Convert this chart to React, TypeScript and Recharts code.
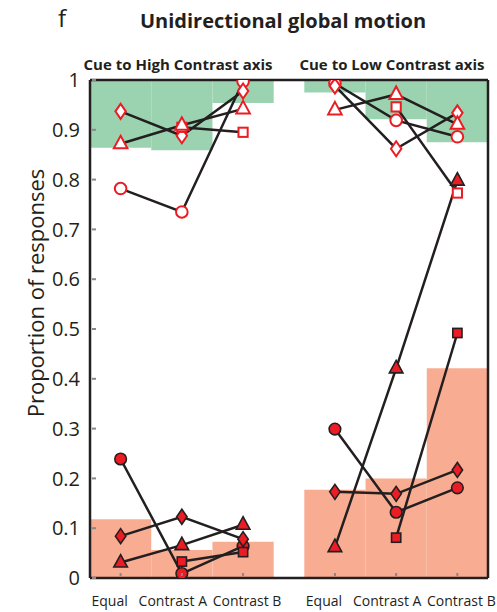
import React from 'react';
import { ComposedChart, XAxis, YAxis, Scatter, ReferenceArea, ReferenceLine } from 'recharts';

const categories = ['Equal', 'Contrast A', 'Contrast B'];
const panelTitles = ['Cue to High Contrast axis', 'Cue to Low Contrast axis'];
const yTicks = [0, 0.1, 0.2, 0.3, 0.4, 0.5, 0.6, 0.7, 0.8, 0.9, 1];

// Bars: green from value up to 1, orange from 0 up to value
const highGreenBottom = [0.864, 0.859, 0.954];
const lowGreenBottom = [0.975, 0.921, 0.875];
const highOrangeTop = [0.118, 0.056, 0.073];
const lowOrangeTop = [0.177, 0.2, 0.421];

// Upper (open) markers – Cue to High Contrast axis
const highCircleUpper = [0.782, 0.735, 0.997];
const highDiamondUpper = [0.937, 0.888, 0.978];
const highTriangleUpper = [0.872, 0.909, 0.942];
const highSquareUpper = [null, 0.905, 0.895];
// Lower (filled) markers – Cue to High Contrast axis
const highCircleLower = [0.239, 0.009, 0.064];
const highDiamondLower = [0.084, 0.123, 0.078];
const highTriangleLower = [0.031, 0.066, 0.107];
const highSquareLower = [null, 0.033, 0.052];

// Upper (open) markers – Cue to Low Contrast axis
const lowCircleUpper = [0.993, 0.919, 0.886];
const lowDiamondUpper = [0.988, 0.862, 0.934];
const lowTriangleUpper = [0.94, 0.971, 0.911];
const lowSquareUpper = [null, 0.946, 0.773];
// Lower (filled) markers – Cue to Low Contrast axis
const lowCircleLower = [0.299, 0.132, 0.181];
const lowDiamondLower = [0.173, 0.169, 0.217];
const lowTriangleLower = [0.062, 0.421, 0.798];
const lowSquareLower = [null, 0.081, 0.492];

const RED = '#ec1c24';
const DARK = '#231f20';
const GREEN = '#9bd3b0';
const ORANGE = '#f8ad92';
const FONT = "'Open Sans', 'Noto Sans', sans-serif";

const xPos = (panel: number, i: number) => 1 + i + panel * 3.5;
const xTickPositions = [0, 1].flatMap((p) => categories.map((_, i) => xPos(p, i)));

type Shape = 'circle' | 'diamond' | 'triangle' | 'square';

const series: { key: string; panel: number; shape: Shape; open: boolean; values: (number | null)[] }[] = [
  { key: 'hcu', panel: 0, shape: 'circle', open: true, values: highCircleUpper },
  { key: 'hdu', panel: 0, shape: 'diamond', open: true, values: highDiamondUpper },
  { key: 'hsu', panel: 0, shape: 'square', open: true, values: highSquareUpper },
  { key: 'htu', panel: 0, shape: 'triangle', open: true, values: highTriangleUpper },
  { key: 'hcl', panel: 0, shape: 'circle', open: false, values: highCircleLower },
  { key: 'hdl', panel: 0, shape: 'diamond', open: false, values: highDiamondLower },
  { key: 'htl', panel: 0, shape: 'triangle', open: false, values: highTriangleLower },
  { key: 'hsl', panel: 0, shape: 'square', open: false, values: highSquareLower },
  { key: 'lcu', panel: 1, shape: 'circle', open: true, values: lowCircleUpper },
  { key: 'ldu', panel: 1, shape: 'diamond', open: true, values: lowDiamondUpper },
  { key: 'ltu', panel: 1, shape: 'triangle', open: true, values: lowTriangleUpper },
  { key: 'lsu', panel: 1, shape: 'square', open: true, values: lowSquareUpper },
  { key: 'lcl', panel: 1, shape: 'circle', open: false, values: lowCircleLower },
  { key: 'ldl', panel: 1, shape: 'diamond', open: false, values: lowDiamondLower },
  { key: 'ltl', panel: 1, shape: 'triangle', open: false, values: lowTriangleLower },
  { key: 'lsl', panel: 1, shape: 'square', open: false, values: lowSquareLower },
];

const toPoints = (panel: number, values: (number | null)[]) =>
  values
    .map((v, i) => (v === null ? null : { x: xPos(panel, i), y: v }))
    .filter((d) => d !== null) as { x: number; y: number }[];

const bars = [
  ...categories.map((_, i) => ({ panel: 0, i, y1: highGreenBottom[i], y2: 1, fill: GREEN })),
  ...categories.map((_, i) => ({ panel: 1, i, y1: lowGreenBottom[i], y2: 1, fill: GREEN })),
  ...categories.map((_, i) => ({ panel: 0, i, y1: 0, y2: highOrangeTop[i], fill: ORANGE })),
  ...categories.map((_, i) => ({ panel: 1, i, y1: 0, y2: lowOrangeTop[i], fill: ORANGE })),
];

const makeMarker = (shape: Shape, open: boolean) => (props: any) => {
  const { cx, cy } = props;
  if (cx == null || cy == null) return <g />;
  const fill = open ? '#ffffff' : RED;
  const stroke = open ? RED : DARK;
  const sw = open ? 2 : 1.6;
  if (shape === 'circle') return <circle cx={cx} cy={cy} r={5.8} fill={fill} stroke={stroke} strokeWidth={sw} />;
  if (shape === 'diamond')
    return (
      <polygon
        points={`${cx},${cy - 7.5} ${cx + 5.2},${cy} ${cx},${cy + 7.5} ${cx - 5.2},${cy}`}
        fill={fill}
        stroke={stroke}
        strokeWidth={sw}
      />
    );
  if (shape === 'triangle')
    return (
      <polygon
        points={`${cx},${cy - 8} ${cx + 6.8},${cy + 4.5} ${cx - 6.8},${cy + 4.5}`}
        fill={fill}
        stroke={stroke}
        strokeWidth={sw}
        strokeLinejoin="miter"
      />
    );
  return <rect x={cx - 4.6} y={cy - 4.6} width={9.2} height={9.2} fill={fill} stroke={stroke} strokeWidth={sw} />;
};

const labelOffsets = [-11, -9, 4];

const XTick = (props: any) => {
  const { x, y, index } = props;
  const label = categories[index % 3];
  return (
    <g>
      <line x1={x} x2={x} y1={y - 2} y2={y - 5} stroke="#888" strokeWidth={2} />
      <text x={x + labelOffsets[index % 3]} y={y + 28} textAnchor="middle" fontSize={14} fontFamily={FONT} fill={DARK}>
        {label}
      </text>
    </g>
  );
};

const YTick = (props: any) => {
  const { x, y, payload } = props;
  return (
    <g>
      <line x1={x + 2} x2={x + 6} y1={y} y2={y} stroke="#888" strokeWidth={2} />
      <text x={x - 10} y={y + 7.2} textAnchor="end" fontSize={20} fontFamily={FONT} fill={DARK}>
        {String(payload.value)}
      </text>
    </g>
  );
};

const noShape = () => <g />;

export default function App() {
  return (
    <div style={{ position: 'absolute', left: 0, top: 0, width: 497, height: 612, background: '#fff' }}>
      <ComposedChart width={497} height={612} margin={{ top: 80, right: 9, bottom: 0, left: 0 }}>
        <XAxis
          type="number"
          dataKey="x"
          domain={[0.5, 7]}
          ticks={xTickPositions}
          interval={0}
          height={34}
          tickSize={0}
          tickMargin={0}
          tick={<XTick />}
          axisLine={{ stroke: DARK, strokeWidth: 2.5 }}
          allowDataOverflow
        />
        <YAxis
          type="number"
          dataKey="y"
          domain={[0, 1]}
          ticks={yTicks}
          interval={0}
          width={90}
          tickSize={0}
          tickMargin={0}
          tick={<YTick />}
          axisLine={{ stroke: DARK, strokeWidth: 2.5 }}
          allowDataOverflow
        />
        {bars.map((b, k) => (
          <ReferenceArea
            key={`bar${k}`}
            x1={xPos(b.panel, b.i) - 0.5}
            x2={xPos(b.panel, b.i) + 0.5}
            y1={b.y1}
            y2={b.y2}
            fill={b.fill}
            fillOpacity={1}
            stroke="none"
          />
        ))}
        {series.map((s) => (
          <Scatter
            key={`line-${s.key}`}
            name={`line-${s.key}`}
            data={toPoints(s.panel, s.values)}
            dataKey="y"
            line={{ stroke: DARK, strokeWidth: 2.5 }}
            lineType="joint"
            shape={noShape}
            isAnimationActive={false}
          />
        ))}
        {series.map((s) => (
          <Scatter
            key={`pts-${s.key}`}
            name={`pts-${s.key}`}
            data={toPoints(s.panel, s.values)}
            dataKey="y"
            shape={makeMarker(s.shape, s.open)}
            isAnimationActive={false}
          />
        ))}
        <ReferenceLine y={1} stroke={DARK} strokeWidth={2.5} />
        <ReferenceLine x={7} stroke={DARK} strokeWidth={2.5} />
      </ComposedChart>
      <svg width={497} height={612} style={{ position: 'absolute', left: 0, top: 0, pointerEvents: 'none' }}>
        <text x={62} y={27} fontSize={24} fontFamily={FONT} fill={DARK} textAnchor="middle">
          f
        </text>
        <text x={283} y={28} fontSize={20} fontWeight="bold" fontFamily={FONT} fill={DARK} textAnchor="middle">
          Unidirectional global motion
        </text>
        <text x={178} y={70} fontSize={15} fontWeight="bold" fontFamily={FONT} fill={DARK} textAnchor="middle">
          {panelTitles[0]}
        </text>
        <text x={392} y={70} fontSize={15} fontWeight="bold" fontFamily={FONT} fill={DARK} textAnchor="middle">
          {panelTitles[1]}
        </text>
        <text
          x={35}
          y={293}
          fontSize={22}
          fontFamily={FONT}
          fill={DARK}
          textAnchor="middle"
          dominantBaseline="central"
          transform="rotate(-90 35 293)"
        >
          Proportion of responses
        </text>
      </svg>
    </div>
  );
}
